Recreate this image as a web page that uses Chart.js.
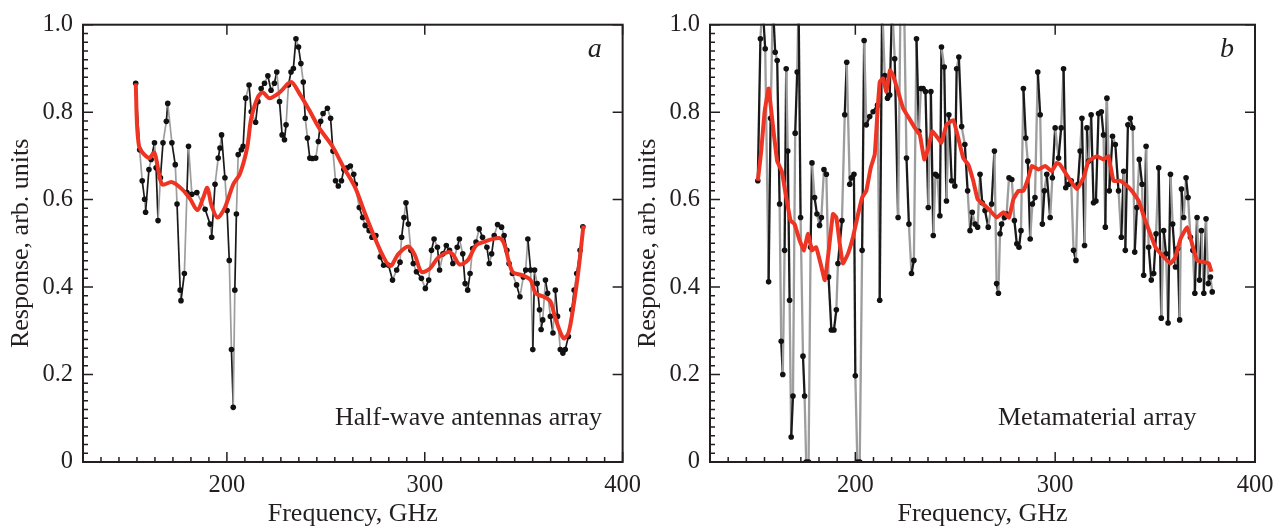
<!DOCTYPE html>
<html>
<head>
<meta charset="utf-8">
<script src="https://cdn.jsdelivr.net/npm/chart.js@4.4.1/dist/chart.umd.min.js"></script>
<style>
  html, body { margin: 0; padding: 0; background: #fff; }
  #wrap { position: relative; width: 1283px; height: 530px; overflow: hidden; }
  .panel { position: absolute; top: 0; height: 530px; }
  #panelA { left: 0; width: 650px; }
  #panelB { left: 627px; width: 656px; }
</style>
</head>
<body>
<div id="wrap">
  <div class="panel" id="panelA"><canvas id="chartA"></canvas></div>
  <div class="panel" id="panelB"><canvas id="chartB"></canvas></div>
</div>
<script>
// axis ticks
var freqTicks = [200, 300, 400];
var respTicks = [0, 0.2, 0.4, 0.6, 0.8, 1.0];
var freqMin = 127.27, freqMax = 400;
var freqMinorStep = 100 / 11;
var respMinorStep = 0.02;

// panel a: half-wave antennas array, measured points
var freqA = [153.9, 155.9, 157.2, 158.4, 158.9, 160.6, 161.7, 163.4, 164.2, 165.2, 166.4, 167.7, 169.4, 170.1,
  172.2, 173.9, 174.8, 176.4, 176.8, 178.5, 179.8, 180.6, 182.3, 184.8, 189.0, 191.5, 192.3, 194.0, 195.6,
  196.5, 197.3, 199.0, 200.1, 201.2, 202.3, 203.2, 204.0, 204.8, 205.7, 207.3, 208.2, 209.5, 211.2, 212.3,
  214.5, 215.7, 217.3, 219.0, 220.7, 222.3, 224.0, 225.2, 226.6, 227.9, 229.1, 229.9, 231.1, 232.4, 233.6,
  234.9, 236.2, 237.4, 238.6, 239.6, 240.7, 241.9, 243.2, 244.9, 246.2, 247.4, 248.6, 250.8, 252.4, 253.6,
  254.9, 256.3, 257.9, 259.1, 260.8, 262.4, 264.1, 264.9, 266.9, 268.6, 269.9, 271.9, 273.3, 275.3, 277.5,
  279.2, 281.7, 283.7, 285.8, 287.5, 288.3, 289.5, 290.5, 291.7, 293.0, 294.2, 295.8, 298.3, 300.3, 302.0,
  303.4, 304.7, 306.4, 307.5, 309.2, 310.9, 312.5, 314.2, 316.4, 317.5, 319.2, 320.4, 321.7, 322.9, 324.2,
  325.9, 327.5, 329.2, 331.4, 332.6, 333.8, 335.1, 336.8, 338.8, 340.1, 341.5, 342.6, 344.3, 346.4, 348.1,
  349.8, 351.0, 352.1, 353.5, 354.6, 355.5, 356.8, 358.0, 358.8, 359.6, 361.0, 362.1, 363.5, 364.8, 366.0,
  367.1, 368.5, 369.8, 371.0, 372.6, 374.3, 375.5, 376.8, 378.5, 379.9];
var respA = [0.866, 0.714, 0.643, 0.601, 0.571, 0.669, 0.692, 0.730, 0.673, 0.552, 0.650, 0.730, 0.779, 0.820,
  0.730, 0.680, 0.590, 0.393, 0.369, 0.431, 0.616, 0.722, 0.612, 0.616, 0.578, 0.544, 0.514, 0.635, 0.695,
  0.718, 0.748, 0.650, 0.575, 0.461, 0.257, 0.125, 0.393, 0.567, 0.703, 0.714, 0.722, 0.832, 0.862, 0.801,
  0.777, 0.824, 0.854, 0.866, 0.883, 0.850, 0.866, 0.892, 0.824, 0.748, 0.737, 0.771, 0.862, 0.892, 0.900,
  0.968, 0.949, 0.911, 0.869, 0.786, 0.741, 0.695, 0.694, 0.695, 0.733, 0.779, 0.797, 0.809, 0.786, 0.711,
  0.643, 0.631, 0.643, 0.669, 0.673, 0.677, 0.658, 0.635, 0.582, 0.559, 0.541, 0.529, 0.514, 0.518, 0.469,
  0.450, 0.450, 0.416, 0.439, 0.457, 0.514, 0.559, 0.593, 0.544, 0.484, 0.454, 0.435, 0.420, 0.397, 0.416,
  0.484, 0.510, 0.491, 0.439, 0.476, 0.495, 0.484, 0.454, 0.491, 0.510, 0.476, 0.408, 0.393, 0.431, 0.488,
  0.503, 0.533, 0.514, 0.491, 0.454, 0.476, 0.518, 0.543, 0.537, 0.518, 0.484, 0.454, 0.431, 0.405, 0.378,
  0.423, 0.439, 0.510, 0.439, 0.257, 0.439, 0.408, 0.348, 0.303, 0.325, 0.416, 0.386, 0.333, 0.295, 0.393,
  0.333, 0.257, 0.249, 0.257, 0.287, 0.348, 0.393, 0.431, 0.484, 0.538];

// panel a: smoothed curve
var freqAfit = [153.9, 155.6, 160.6, 163.4, 167.2, 172.2, 177.3, 181.5, 185.1, 188.1, 190.1, 192.3, 195.3,
  199.0, 203.2, 206.5, 210.2, 212.3, 215.7, 218.2, 221.5, 226.6, 232.4, 236.6, 241.6, 246.6, 253.3, 259.1,
  264.9, 269.9, 277.5, 282.5, 286.7, 291.7, 295.0, 298.3, 302.5, 306.7, 311.7, 314.2, 317.5, 321.7, 325.9,
  330.9, 337.6, 340.1, 344.3, 349.3, 353.5, 356.0, 360.1, 363.5, 366.0, 370.1, 372.6, 375.1, 377.7, 380.2];
var respAfit = [0.866, 0.722, 0.695, 0.707, 0.635, 0.640, 0.624, 0.601, 0.576, 0.605, 0.627, 0.586, 0.559,
  0.582, 0.635, 0.658, 0.718, 0.786, 0.835, 0.845, 0.832, 0.845, 0.869, 0.843, 0.805, 0.764, 0.722, 0.673,
  0.627, 0.567, 0.484, 0.448, 0.476, 0.493, 0.473, 0.435, 0.442, 0.467, 0.480, 0.475, 0.452, 0.461, 0.495,
  0.505, 0.512, 0.499, 0.435, 0.427, 0.416, 0.386, 0.378, 0.367, 0.329, 0.283, 0.295, 0.355, 0.439, 0.541];

// panel b: metamaterial array, measured points
var freqB = [151.2, 152.5, 153.5, 154.9, 156.6, 157.6, 158.7, 159.9, 160.9, 162.1, 162.9, 163.7, 164.6, 165.4,
  166.2, 167.1, 167.9, 168.8, 169.9, 170.9, 171.6, 172.6, 173.8, 174.6, 175.4, 176.6, 177.6, 178.3, 179.6,
  180.8, 182.1, 183.0, 184.3, 185.5, 186.6, 188.0, 189.3, 190.5, 191.3, 193.3, 194.7, 195.7, 197.2, 198.0,
  199.3, 200.0, 201.0, 202.2, 203.4, 204.4, 205.5, 207.2, 208.9, 211.1, 212.2, 213.4, 214.7, 216.1, 217.2,
  218.4, 219.7, 221.4, 222.6, 224.4, 225.6, 226.8, 228.1, 229.3, 230.6, 231.8, 232.8, 233.9, 235.1, 236.5,
  237.8, 239.0, 240.1, 241.1, 242.3, 243.1, 244.5, 245.6, 246.8, 248.2, 249.8, 250.7, 251.8, 253.2, 254.8,
  256.2, 257.4, 258.5, 259.9, 261.2, 262.4, 263.5, 264.9, 266.5, 268.2, 269.6, 270.7, 271.6, 272.4, 273.2,
  274.6, 275.7, 276.9, 278.3, 279.6, 280.8, 281.9, 282.9, 284.1, 285.3, 286.3, 287.5, 288.6, 289.9, 291.3,
  292.5, 293.6, 294.6, 295.8, 297.5, 298.6, 300.0, 301.7, 303.0, 304.2, 305.3, 306.7, 308.0, 309.2, 310.4,
  311.4, 312.5, 313.4, 314.7, 315.9, 316.7, 318.0, 319.2, 320.4, 321.7, 323.1, 324.2, 325.1, 325.9, 327.1,
  328.7, 330.1, 331.7, 333.1, 334.3, 335.1, 336.4, 337.6, 338.8, 339.8, 340.9, 342.1, 343.5, 344.3, 345.5,
  346.8, 348.1, 349.3, 350.5, 351.8, 353.1, 354.3, 355.5, 356.5, 357.7, 358.8, 360.2, 361.3, 362.3, 363.2,
  364.3, 365.5, 366.5, 367.7, 368.9, 369.9, 371.0, 372.2, 373.2, 374.4, 375.5, 376.6, 377.7, 378.6];
var respB = [0.643, 0.968, 1.05, 0.945, 0.412, 0.786, 1.05, 0.937, 0.918, 0.590, 0.276, 0.200, 0.484, 0.899,
  0.711, 0.370, 0.057, 0.151, 0.752, 0.892, 1.05, 0.559, 0.242, 0.151, 0.0, 0.0, 0.491, 0.684, 0.605,
  0.567, 0.541, 0.559, 0.669, 0.658, 0.423, 0.302, 0.302, 0.348, 0.454, 0.552, 0.794, 0.914, 0.635, 0.650,
  0.658, 0.197, 0.0, 0.0, 0.484, 0.964, 0.771, 0.790, 0.801, 0.816, 0.370, 1.05, 0.884, 0.832, 0.839,
  1.05, 0.922, 0.559, 1.05, 1.05, 0.695, 0.544, 0.431, 0.461, 0.968, 0.756, 0.854, 0.854, 0.847, 0.582,
  0.847, 0.518, 0.658, 0.654, 0.563, 0.949, 0.903, 0.597, 0.794, 0.643, 0.631, 0.899, 0.926, 0.767, 0.726,
  0.620, 0.529, 0.571, 0.544, 0.537, 0.658, 0.593, 0.575, 0.537, 0.590, 0.711, 0.408, 0.386, 0.522, 0.544,
  0.559, 0.567, 0.650, 0.646, 0.552, 0.499, 0.491, 0.529, 0.854, 0.741, 0.688, 0.510, 0.590, 0.605, 0.892,
  0.794, 0.544, 0.620, 0.658, 0.559, 0.650, 0.764, 0.695, 0.764, 0.899, 0.627, 0.635, 0.643, 0.484, 0.461,
  0.635, 0.711, 0.786, 0.495, 0.764, 0.688, 0.794, 0.593, 0.597, 0.797, 0.801, 0.748, 0.537, 0.832, 0.620,
  0.745, 0.726, 0.620, 0.514, 0.665, 0.484, 0.771, 0.786, 0.764, 0.480, 0.582, 0.692, 0.635, 0.427, 0.722,
  0.491, 0.416, 0.431, 0.522, 0.673, 0.329, 0.529, 0.476, 0.318, 0.658, 0.544, 0.446, 0.488, 0.325, 0.624,
  0.559, 0.650, 0.605, 0.514, 0.484, 0.386, 0.559, 0.416, 0.529, 0.386, 0.556, 0.408, 0.423, 0.389];

// panel b: smoothed curve
var freqBfit = [151.2, 152.9, 154.6, 156.6, 158.7, 160.9, 163.2, 165.4, 167.6, 169.6, 172.1, 174.3, 176.3,
  178.3, 180.4, 182.6, 184.7, 186.7, 188.8, 190.5, 192.2, 193.8, 196.3, 198.8, 201.4, 203.4, 205.5, 207.7,
  209.7, 211.0, 212.2, 213.9, 215.5, 217.3, 218.9, 221.4, 223.9, 226.4, 229.8, 232.3, 234.5, 236.5, 238.5,
  240.6, 243.1, 245.6, 249.0, 251.5, 254.0, 256.5, 259.0, 261.2, 264.0, 267.4, 270.7, 274.1, 276.9, 279.1,
  281.6, 284.1, 286.6, 288.3, 291.6, 295.0, 298.3, 300.8, 302.5, 306.7, 310.8, 314.2, 316.7, 320.9, 324.2,
  326.7, 329.2, 332.6, 335.1, 338.4, 341.8, 345.1, 347.6, 350.2, 353.5, 357.7, 360.2, 362.7, 366.0, 368.5,
  371.0, 374.4, 376.9, 378.2];
var respBfit = [0.643, 0.711, 0.801, 0.854, 0.771, 0.688, 0.665, 0.605, 0.552, 0.544, 0.507, 0.484, 0.522,
  0.484, 0.491, 0.454, 0.416, 0.484, 0.567, 0.559, 0.499, 0.454, 0.476, 0.514, 0.567, 0.605, 0.620, 0.673,
  0.703, 0.794, 0.869, 0.877, 0.847, 0.896, 0.884, 0.847, 0.809, 0.790, 0.764, 0.748, 0.692, 0.718, 0.756,
  0.745, 0.730, 0.771, 0.782, 0.741, 0.695, 0.680, 0.643, 0.601, 0.590, 0.575, 0.559, 0.571, 0.559, 0.601,
  0.620, 0.620, 0.650, 0.677, 0.669, 0.677, 0.665, 0.684, 0.680, 0.650, 0.624, 0.650, 0.688, 0.699, 0.692,
  0.699, 0.643, 0.643, 0.635, 0.620, 0.597, 0.552, 0.522, 0.491, 0.473, 0.454, 0.469, 0.510, 0.537, 0.499,
  0.461, 0.457, 0.454, 0.435];

var INK = "#231f20";
var RED = "#ee3524";
var SERIF = "'Liberation Serif', 'Times New Roman', serif";

function toPoints(xs, ys) {
  return xs.map(function (x, i) { return { x: x, y: ys[i] }; });
}

// frame, inward ticks, panel letter and caption
var frameAndTicks = {
  id: "frameAndTicks",
  afterDraw: function (chart, args, opts) {
    var ctx = chart.ctx;
    var a = chart.chartArea;
    var xs = chart.scales.x;
    var ys = chart.scales.y;
    ctx.save();
    ctx.strokeStyle = INK;
    ctx.lineWidth = 1.5;
    ctx.beginPath();
    for (var k = -8; k <= 22; k++) {
      var v = 200 + k * freqMinorStep;
      if (v < xs.min - 0.01 || v > xs.max + 0.01) continue;
      var px = xs.getPixelForValue(v);
      var major = k % 11 === 0;
      ctx.moveTo(px, a.bottom);
      ctx.lineTo(px, a.bottom - (major ? 10 : 5));
      if (major) {
        ctx.moveTo(px, a.top);
        ctx.lineTo(px, a.top + 10);
      }
    }
    for (var j = 0; j <= 50; j++) {
      var py = ys.getPixelForValue(j * respMinorStep);
      var maj = j % 10 === 0;
      ctx.moveTo(a.left, py);
      ctx.lineTo(a.left + (maj ? 10 : 5), py);
      if (maj) {
        ctx.moveTo(a.right, py);
        ctx.lineTo(a.right - 10, py);
      }
    }
    ctx.stroke();
    ctx.lineWidth = 2;
    ctx.strokeRect(a.left, a.top, a.right - a.left, a.bottom - a.top);

    ctx.fillStyle = INK;
    ctx.textBaseline = "alphabetic";
    ctx.textAlign = "right";
    ctx.font = "italic 28px " + SERIF;
    ctx.fillText(opts.letter, a.right - 21, a.top + 32);
    ctx.textAlign = "left";
    ctx.font = "26px " + SERIF;
    ctx.fillText(opts.caption, a.left + opts.captionLeft, a.top + 400);
    ctx.restore();
  }
};

function makeChart(id, data, fit, letter, caption, captionLeft, padRight, fitTension, traceWidth) {
  var tickFont = { family: SERIF, size: 24.5 };
  var titleFont = { family: SERIF, size: 26 };
  return new Chart(document.getElementById(id), {
    type: "line",
    data: {
      datasets: [{
        data: fit,
        borderColor: RED,
        borderWidth: 4,
        pointRadius: 0,
        tension: fitTension,
        clip: 1
      }, {
        data: data,
        borderColor: "#1a1a1a",
        borderWidth: traceWidth,
        pointRadius: 2.8,
        pointBackgroundColor: "#111",
        pointBorderWidth: 0,
        tension: 0,
        clip: 1,
        segment: {
          borderColor: function (c) { return c.p0DataIndex % 2 ? "#9d9d9d" : "#1a1a1a"; }
        }
      }]
    },
    options: {
      responsive: true,
      maintainAspectRatio: false,
      animation: false,
      layout: { padding: { left: 0, top: 21, right: padRight, bottom: 0 } },
      plugins: {
        legend: { display: false },
        tooltip: { enabled: false },
        frameAndTicks: { letter: letter, caption: caption, captionLeft: captionLeft }
      },
      scales: {
        x: {
          type: "linear",
          min: freqMin,
          max: freqMax,
          afterBuildTicks: function (s) { s.ticks = freqTicks.map(function (v) { return { value: v }; }); },
          afterFit: function (s) { s.height = 68; },
          grid: { display: false, drawTicks: false },
          border: { display: false },
          ticks: {
            padding: 9,
            color: INK,
            font: tickFont,
            maxRotation: 0,
            autoSkip: false,
            callback: function (v) { return String(v); }
          },
          title: {
            display: true,
            text: "Frequency, GHz",
            color: INK,
            font: titleFont,
            padding: { top: 0, bottom: 0 }
          }
        },
        y: {
          min: 0,
          max: 1,
          afterBuildTicks: function (s) { s.ticks = respTicks.map(function (v) { return { value: v }; }); },
          afterFit: function (s) { s.width = 83; },
          grid: { display: false, drawTicks: false },
          border: { display: false },
          ticks: {
            padding: 10,
            color: INK,
            font: tickFont,
            callback: function (v) { return v === 0 ? "0" : v.toFixed(1); }
          },
          title: {
            display: true,
            text: "Response, arb. units",
            color: INK,
            font: titleFont,
            padding: { top: 6, bottom: 0 }
          }
        }
      }
    },
    plugins: [frameAndTicks]
  });
}

makeChart("chartA", toPoints(freqA, respA), toPoints(freqAfit, respAfit),
  "a", "Half-wave antennas array", 252, 23, 0.3, 1.7);
makeChart("chartB", toPoints(freqB, respB), toPoints(freqBfit, respBfit),
  "b", "Metamaterial array", 288, 28, 0.1, 2.3);
</script>
</body>
</html>
